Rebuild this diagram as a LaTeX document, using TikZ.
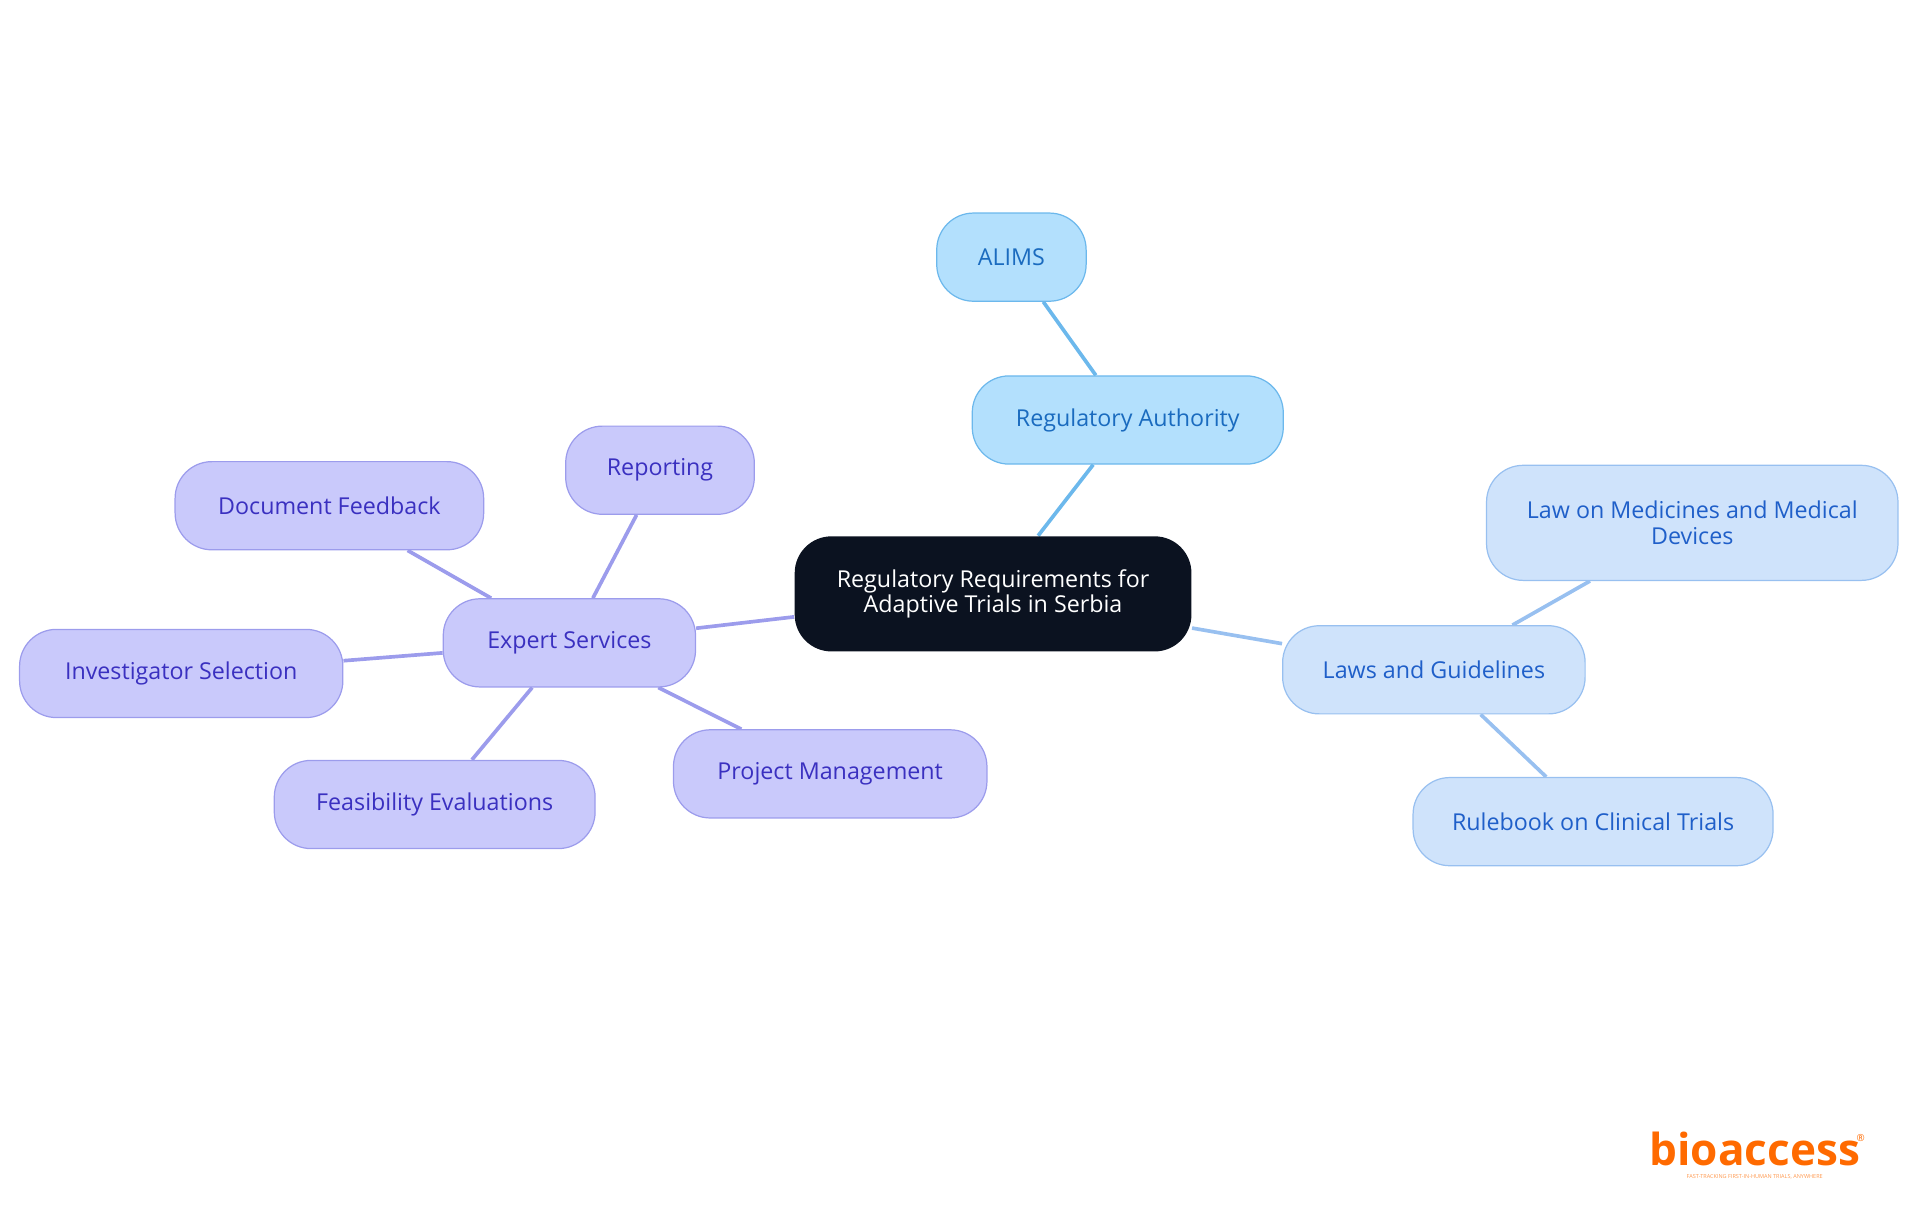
\documentclass[tikz,border=0pt]{standalone}
\usepackage{fontspec}
\setmainfont{Open Sans}
\usetikzlibrary{backgrounds}
\definecolor{ctr}{HTML}{0B1220}
\definecolor{bA}{HTML}{B3E0FD}\definecolor{dA}{HTML}{6CB8EC}\definecolor{tA}{HTML}{1A6BBF}
\definecolor{bB}{HTML}{CFE3FB}\definecolor{dB}{HTML}{98C0F0}\definecolor{tB}{HTML}{1F5FC9}
\definecolor{bC}{HTML}{C9C9FB}\definecolor{dC}{HTML}{9C9CEC}\definecolor{tC}{HTML}{3A30C0}
\definecolor{logo}{HTML}{FF6A00}
\tikzset{
 bx/.style={rounded corners=30pt,minimum height=72pt,inner sep=0pt,align=center,font=\fontsize{19}{21}\selectfont,line width=1pt},
 sA/.style={bx,fill=bA,draw=dA,text=tA},
 sB/.style={bx,fill=bB,draw=dB,text=tB},
 sC/.style={bx,fill=bC,draw=dC,text=tC},
 eA/.style={dA,line width=3pt},
 eB/.style={dB,line width=3pt},
 eC/.style={dC,line width=3pt},
}
\begin{document}
\begin{tikzpicture}[x=1pt,y=-1pt]
\useasboundingbox (0,0) rectangle (1568,992);
\node[bx,fill=ctr,text=white,minimum width=324pt,minimum height=94pt] (c) at (811,485) {Regulatory Requirements for\\Adaptive Trials in Serbia};
\node[sA,minimum width=254pt] (ra) at (921,343) {Regulatory Authority};
\node[sA,minimum width=122pt] (al) at (826,210) {ALIMS};
\node[sB,minimum width=247pt] (lg) at (1171,547) {Laws and Guidelines};
\node[sB,minimum width=336pt,minimum height=94pt] (lm) at (1382,427) {Law on Medicines and Medical\\Devices};
\node[sB,minimum width=294pt] (rb) at (1301,671) {Rulebook on Clinical Trials};
\node[sC,minimum width=206pt] (es) at (465,525) {Expert Services};
\node[sC,minimum width=154pt] (rp) at (539,384) {Reporting};
\node[sC,minimum width=252pt] (df) at (269,413) {Document Feedback};
\node[sC,minimum width=264pt] (is) at (148,550) {Investigator Selection};
\node[sC,minimum width=262pt] (fe) at (355,657) {Feasibility Evaluations};
\node[sC,minimum width=256pt] (pm) at (678,632) {Project Management};
\begin{scope}[on background layer]
\draw[eA] (c)--(ra); \draw[eA] (ra)--(al);
\draw[eB] (c)--(lg); \draw[eB] (lg)--(lm); \draw[eB] (lg)--(rb);
\draw[eC] (c)--(es);
\foreach \n in {rp,df,is,fe,pm} \draw[eC] (es)--(\n);
\end{scope}
\node[text=logo,font=\fontsize{36}{38}\selectfont\bfseries,inner sep=0pt,anchor=base] (lo) at (1433,952) {bioaccess};
\node[text=logo,font=\fontsize{8}{8}\selectfont,anchor=west,inner sep=0pt] (r) at (1516,929) {®};
\node[text=logo!70,font=\fontsize{4.5}{5}\selectfont,inner sep=0pt,anchor=north] (tg) at (1433,959) {FAST-TRACKING FIRST-IN-HUMAN TRIALS, ANYWHERE};
\end{tikzpicture}
\end{document}
